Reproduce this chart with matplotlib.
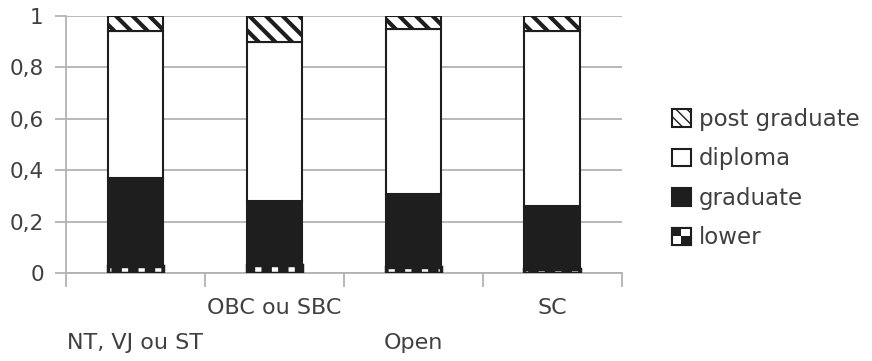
import numpy as np
import matplotlib.pyplot as plt
from matplotlib.patches import Patch, Rectangle
from matplotlib.legend_handler import HandlerBase

# data
categories = ["NT, VJ ou ST", "OBC ou SBC", "Open", "SC"]
lower = [0.028, 0.03, 0.022, 0.017]
graduate = [0.342, 0.25, 0.285, 0.243]
diploma = [0.57, 0.62, 0.643, 0.68]
post_graduate = [0.06, 0.10, 0.05, 0.06]
y_ticks = [0, 0.2, 0.4, 0.6, 0.8, 1]
y_labels = ["0", "0,2", "0,4", "0,6", "0,8", "1"]

plt.rcParams['font.family'] = ['DejaVu Sans']
text_col = '#404040'
grid_col = '#b3b3b3'
dark = '#1e1e1e'
fs = 15.5


class CheckerHandler(HandlerBase):
    # little 2x2 checker square for the "lower" entry
    def create_artists(self, legend, orig_handle, xd, yd, width, height, fontsize, trans):
        hw, hh = width / 2, height / 2
        arts = [Rectangle((-xd, -yd), width, height, facecolor=dark, edgecolor=dark, lw=1.5)]
        arts.append(Rectangle((-xd + hw, -yd + hh), hw, hh, facecolor='white', edgecolor='none'))
        arts.append(Rectangle((-xd, -yd), hw, hh, facecolor='white', edgecolor='none'))
        arts.append(Rectangle((-xd, -yd), width, height, fill=False, edgecolor=dark, lw=1.5))
        for a in arts:
            a.set_transform(trans)
        return arts


fig = plt.figure(figsize=(8.72, 3.61), dpi=100)
ax = fig.add_axes([0.0757, 0.2438, 0.6373, 0.7119])

x = np.arange(len(categories))
w = 0.4
lower = np.array(lower)
graduate = np.array(graduate)
diploma = np.array(diploma)
post_graduate = np.array(post_graduate)

# lower: dark band with white checks
with plt.rc_context({'hatch.linewidth': 4.5}):
    ax.bar(x, lower, w, color=dark, edgecolor='white', hatch='|', linewidth=0, zorder=3)
ax.bar(x, lower, w, fill=False, edgecolor=dark, linewidth=2.5, zorder=4)
ax.bar(x, graduate, w, bottom=lower, color=dark, edgecolor=dark, linewidth=1.5, zorder=3)
b2 = lower + graduate
ax.bar(x, diploma, w, bottom=b2, color='white', edgecolor=dark, linewidth=1.5, zorder=3)
b3 = b2 + diploma
with plt.rc_context({'hatch.linewidth': 3.0}):
    ax.bar(x, post_graduate, w, bottom=b3, color='white', edgecolor=dark, hatch='\\\\',
           linewidth=1.5, zorder=3)

ax.set_xlim(-0.5, 3.5)
ax.set_ylim(0, 1)
ax.set_yticks(y_ticks)
ax.set_yticklabels(y_labels, fontsize=fs, color=text_col)
ax.yaxis.grid(True, color=grid_col, linewidth=1.3, zorder=0)
ax.set_axisbelow(True)

ax.set_xticks(np.arange(-0.5, 4, 1))
ax.set_xticklabels([])
ax.set_xticks(x, minor=True)
ax.set_xticklabels([("\n" if i % 2 == 0 else "") + c for i, c in enumerate(categories)],
                   minor=True, fontsize=16, color=text_col)
for t in ax.get_xticklabels(minor=True):
    t.set_linespacing(1.95)
ax.tick_params(axis='x', which='major', length=10, color=grid_col, width=1.3)
ax.tick_params(axis='x', which='minor', length=0, pad=18)
ax.tick_params(axis='y', length=8, color=grid_col, width=1.3, pad=8)

for s in ['top', 'right']:
    ax.spines[s].set_visible(False)
for s in ['left', 'bottom']:
    ax.spines[s].set_color(grid_col)
    ax.spines[s].set_linewidth(1.3)

with plt.rc_context({'hatch.linewidth': 2.5}):
    h_post = Patch(facecolor='white', edgecolor=dark, hatch='\\\\\\', lw=1.5, label='post graduate')
h_dip = Patch(facecolor='white', edgecolor=dark, lw=1.5, label='diploma')
h_grad = Patch(facecolor=dark, edgecolor=dark, lw=1.5, label='graduate')
h_low = Patch(facecolor=dark, edgecolor=dark, label='lower')
leg = fig.legend(handles=[h_post, h_dip, h_grad, h_low], loc='center left',
                 bbox_to_anchor=(0.771, 0.505), frameon=False, fontsize=16.5,
                 handlelength=0.8, handleheight=0.8, handletextpad=0.35,
                 labelspacing=0.72, borderpad=0, borderaxespad=0,
                 handler_map={h_low: CheckerHandler()})
for t in leg.get_texts():
    t.set_color(text_col)

plt.savefig('out.png', dpi=100)
